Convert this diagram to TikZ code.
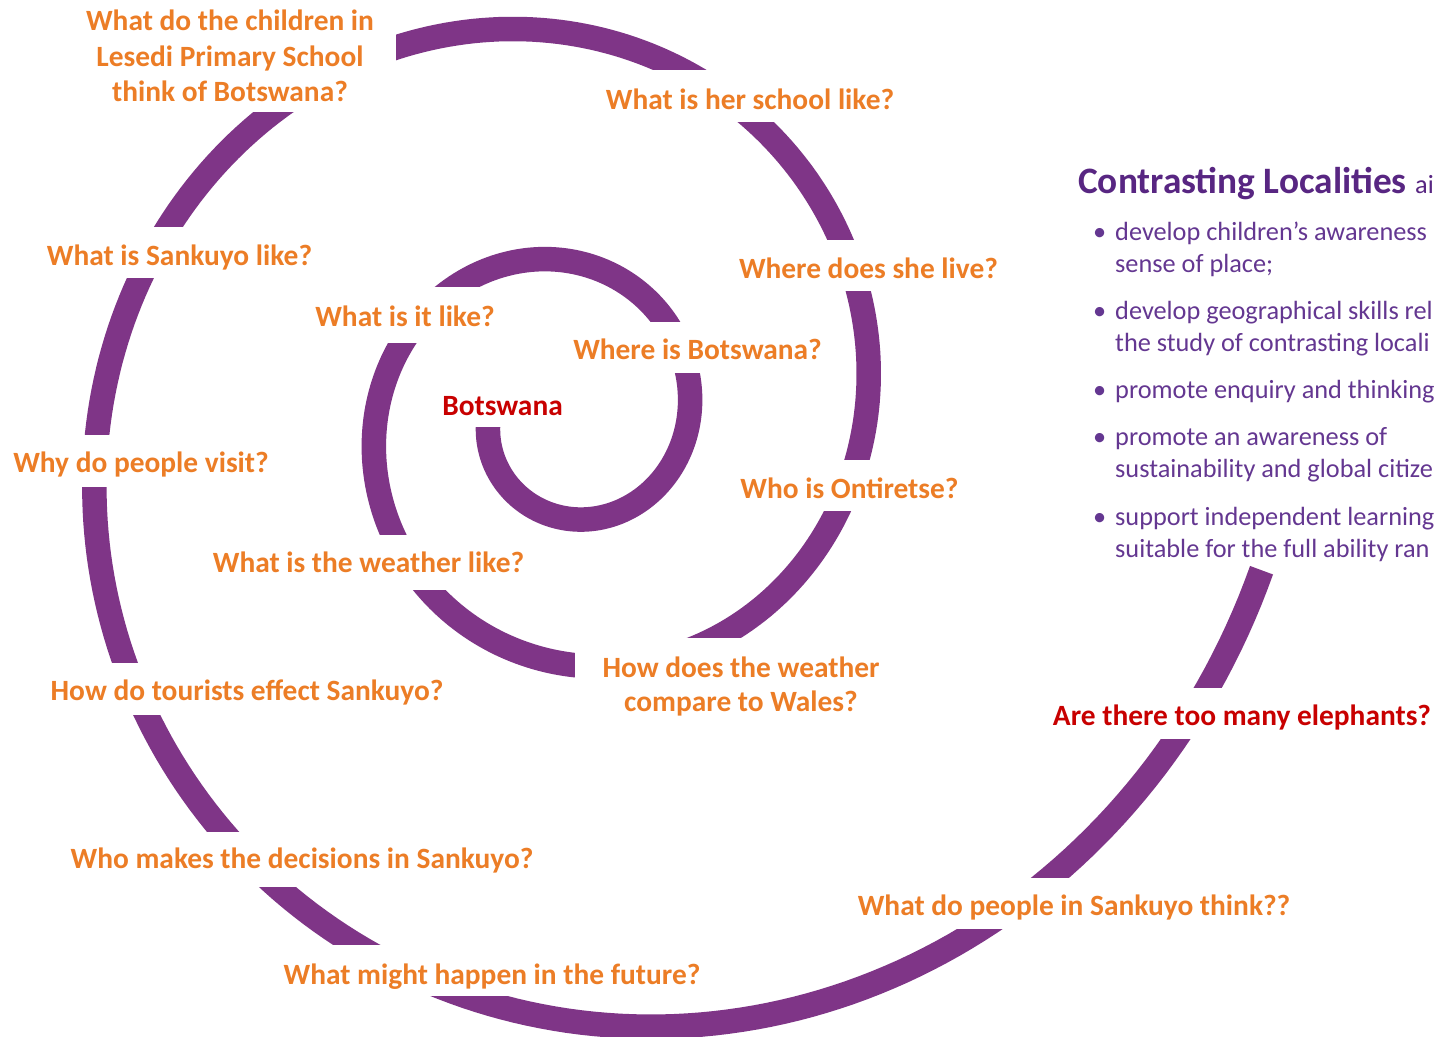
\documentclass[tikz,border=0pt]{standalone}
\usepackage{fontspec}
\setmainfont{Carlito}
\definecolor{spiralpurple}{RGB}{127,53,135}
\definecolor{qorange}{RGB}{236,125,38}
\definecolor{qred}{RGB}{200,0,0}
\definecolor{headpurple}{RGB}{88,38,130}
\definecolor{bodypurple}{RGB}{100,55,145}
\begin{document}
\begin{tikzpicture}[x=1pt,y=-1pt,
  spiral/.style={draw=spiralpurple, line width=24.5pt, line join=round},
  lbl/.style={fill=white, inner xsep=10pt, inner ysep=0pt, text height=38pt, text depth=13pt,
    anchor=base, font=\bfseries\fontsize{29.4}{35.5}\selectfont, text=qorange},
  linetxt/.style={inner sep=0pt, anchor=base, font=\bfseries\fontsize{29.4}{35.5}\selectfont, text=qorange},
  whitebox/.style={fill=white, draw=none, inner sep=0pt},
  aimtxt/.style={inner sep=0pt, anchor=base west, text=bodypurple, font=\fontsize{26.3}{32}\selectfont}]
\useasboundingbox (0,0) rectangle (1434,1036);
\clip (0,0) rectangle (1434,1036);
\fill[white] (0,0) rectangle (1434,1036);
% spiral
\draw[spiral] plot[domain=175:1068, samples=700, variable=\t]
  ({566.8 + 79.6*exp((\t-188)*0.0024891)*cos(\t)},
   {418 - 1.03*79.6*exp((\t-188)*0.0024891)*sin(\t)});
% single-line labels
\node[lbl, text=qred, text depth=12pt] (botswana) at (502.5,415) {Botswana};
\node[lbl, text height=37pt, text depth=14pt] (where) at (697.5,359.3) {Where is Botswana?};
\node[lbl, text height=39pt, text depth=17pt] (itlike) at (405,326) {What is it like?};
\node[lbl, text height=37pt, text depth=18pt] (weather) at (368.5,572) {What is the weather like?};
\node[lbl, text height=38pt, text depth=13pt] (ontiretse) at (849.5,498) {Who is Ontiretse?};
\node[lbl, text height=38pt, text depth=13pt] (live) at (868.5,278) {Where does she live?};
\node[lbl, text height=39pt, text depth=13pt] (school) at (750,109) {What is her school like?};
\node[lbl, text height=38pt, text depth=13pt] (sankuyo) at (179.5,265) {What is Sankuyo like?};
\node[lbl, text height=38pt, text depth=14pt] (visit) at (141,472.7) {Why do people visit?};
\node[lbl, text height=38pt, text depth=14pt] (tourists) at (247,700.7) {How do tourists effect Sankuyo?};
\node[lbl, text height=36pt, text depth=19pt] (decisions) at (302,868) {Who makes the decisions in Sankuyo?};
\node[lbl, text height=39pt, text depth=12pt] (future) at (492,984) {What might happen in the future?};
\node[lbl, text height=37pt, text depth=14pt] (think) at (1074,915) {What do people in Sankuyo think??};
\node[lbl, text=qred, text height=38pt, text depth=13pt] (elephants) at (1242,725.7) {Are there too many elephants?};
% three-line label
\node[whitebox, minimum width=330pt, minimum height=112pt, anchor=south east] (box1) at (396,112) {};
\node[linetxt] (c1) at (230,30.7) {What do the children in};
\node[linetxt] (c2) at (230,66.7) {Lesedi Primary School};
\node[linetxt] (c3) at (230,101.7) {think of Botswana?};
% two-line label
\node[whitebox, minimum width=332pt, minimum height=90pt, anchor=north west] (box2) at (575,638) {};
\node[linetxt] (w1) at (741,677) {How does the weather};
\node[linetxt] (w2) at (741,711.7) {compare to Wales?};
% aims text
\node[inner sep=0pt, anchor=base west, text=headpurple] (head) at (1078,193.3)
  {\fontsize{37.3}{44}\selectfont\bfseries Contrasting Localities \fontsize{26.3}{32}\selectfont\mdseries ai};
\node[aimtxt] (aims) at (1093,240.7) {%
  \begin{tabular}[t]{@{}l@{}l@{}}
  \makebox[22pt][l]{\textbullet} & develop children’s awareness\\
   & sense of place;\\[14.6pt]
  \makebox[22pt][l]{\textbullet} & develop geographical skills rel\\
   & the study of contrasting locali\\[15pt]
  \makebox[22pt][l]{\textbullet} & promote enquiry and thinking\\[14.7pt]
  \makebox[22pt][l]{\textbullet} & promote an awareness of\\
   & sustainability and global citize\\[16.3pt]
  \makebox[22pt][l]{\textbullet} & support independent learning\\
   & suitable for the full ability ran
  \end{tabular}};
\end{tikzpicture}
\end{document}
